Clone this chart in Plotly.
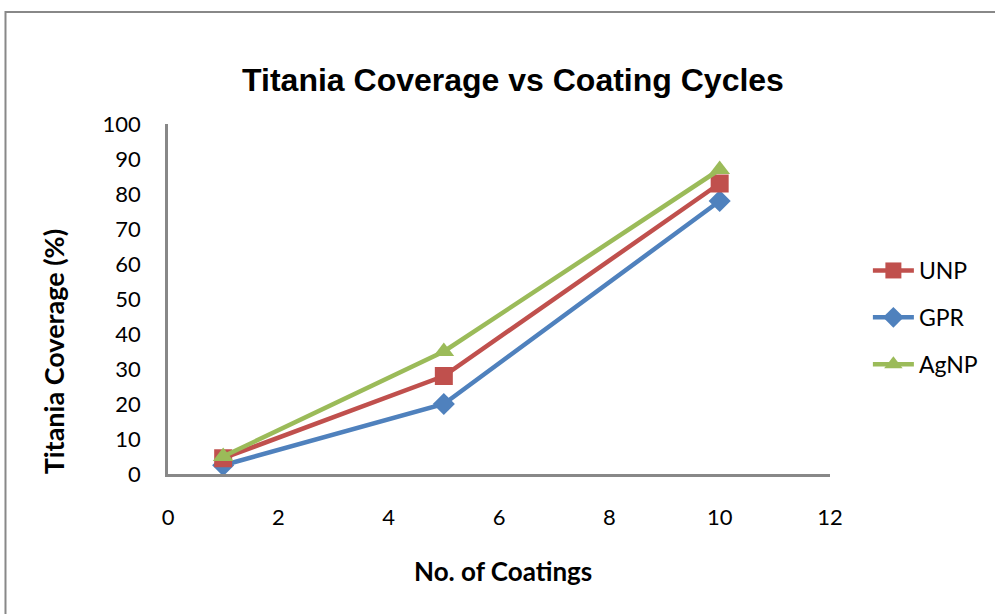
import plotly.graph_objects as go

coatings = [1, 5, 10]
unp = [4.5, 28, 83]
gpr = [2.5, 20, 78]
agnp = [5, 35, 87]
series_names = ["UNP", "GPR", "AgNP"]
x_ticks = [0, 2, 4, 6, 8, 10, 12]
y_ticks = [0, 10, 20, 30, 40, 50, 60, 70, 80, 90, 100]

colors = {"UNP": "#C0504D", "GPR": "#4F81BD", "AgNP": "#9BBB59"}
symbols = {"UNP": "square", "GPR": "diamond", "AgNP": "triangle-up"}
sizes = {"UNP": 18, "GPR": 17, "AgNP": 18}
data = {"UNP": unp, "GPR": gpr, "AgNP": agnp}
ranks = {"UNP": 1, "GPR": 2, "AgNP": 3}

fig = go.Figure()
for name in ["GPR", "UNP", "AgNP"]:
    fig.add_trace(go.Scatter(
        x=coatings, y=data[name], name=name, mode="lines+markers",
        line=dict(color=colors[name], width=4.5),
        marker=dict(symbol=symbols[name], size=sizes[name], color=colors[name]),
        legendrank=ranks[name], legendgroup=name,
    ))

L, R, T, B = 168, 163, 124, 140
W, H = 995, 614
pw, ph = W - L - R, H - T - B

def px(xp):
    return (xp - L) / pw

def py(yp):
    return (H - B - yp) / ph

FONT = "Lato, Liberation Sans, Arial"

fig.update_layout(
    width=W, height=H,
    margin=dict(l=L, r=R, t=T, b=B),
    paper_bgcolor="white", plot_bgcolor="white",
    font=dict(family=FONT, size=22, color="black"),
    title=dict(text="<b>Titania Coverage vs Coating Cycles</b>",
               font=dict(family="Liberation Sans, Arial", size=32, color="black"),
               x=513 / W, xanchor="center", y=1 - 80 / H, yanchor="middle"),
    xaxis=dict(range=[0, 12], tickvals=x_ticks, showgrid=False, zeroline=False,
               showline=True, linecolor="#888888", linewidth=2.5, ticks="",
               ticklabelstandoff=22, tickfont=dict(size=22)),
    yaxis=dict(range=[0, 100], tickvals=y_ticks, showgrid=False, zeroline=False,
               showline=True, linecolor="#888888", linewidth=2.5, ticks="",
               ticklabelstandoff=20, tickfont=dict(size=22)),
    legend=dict(x=px(870), xanchor="left", y=py(249), yanchor="top",
                font=dict(size=23), traceorder="grouped", tracegroupgap=14,
                itemwidth=41, bgcolor="rgba(0,0,0,0)"),
    showlegend=True,
)

fig.add_annotation(text="<b>No. of Coatings</b>", xref="paper", yref="paper",
                   x=px(504), y=py(571), xanchor="center", yanchor="middle",
                   showarrow=False, font=dict(size=26))
fig.add_annotation(text="<b>Titania Coverage (%)</b>", xref="paper", yref="paper",
                   x=px(53), y=py(352), xanchor="center", yanchor="middle",
                   textangle=-90, showarrow=False, font=dict(size=27))

fig.add_shape(type="rect", xref="paper", yref="paper",
              x0=px(5), x1=px(1005), y0=py(624), y1=py(12),
              line=dict(color="#888888", width=2), fillcolor="rgba(0,0,0,0)", layer="below")

fig.write_html("out.html", config={"displayModeBar": False},
               post_script="document.body.style.margin='0';")
